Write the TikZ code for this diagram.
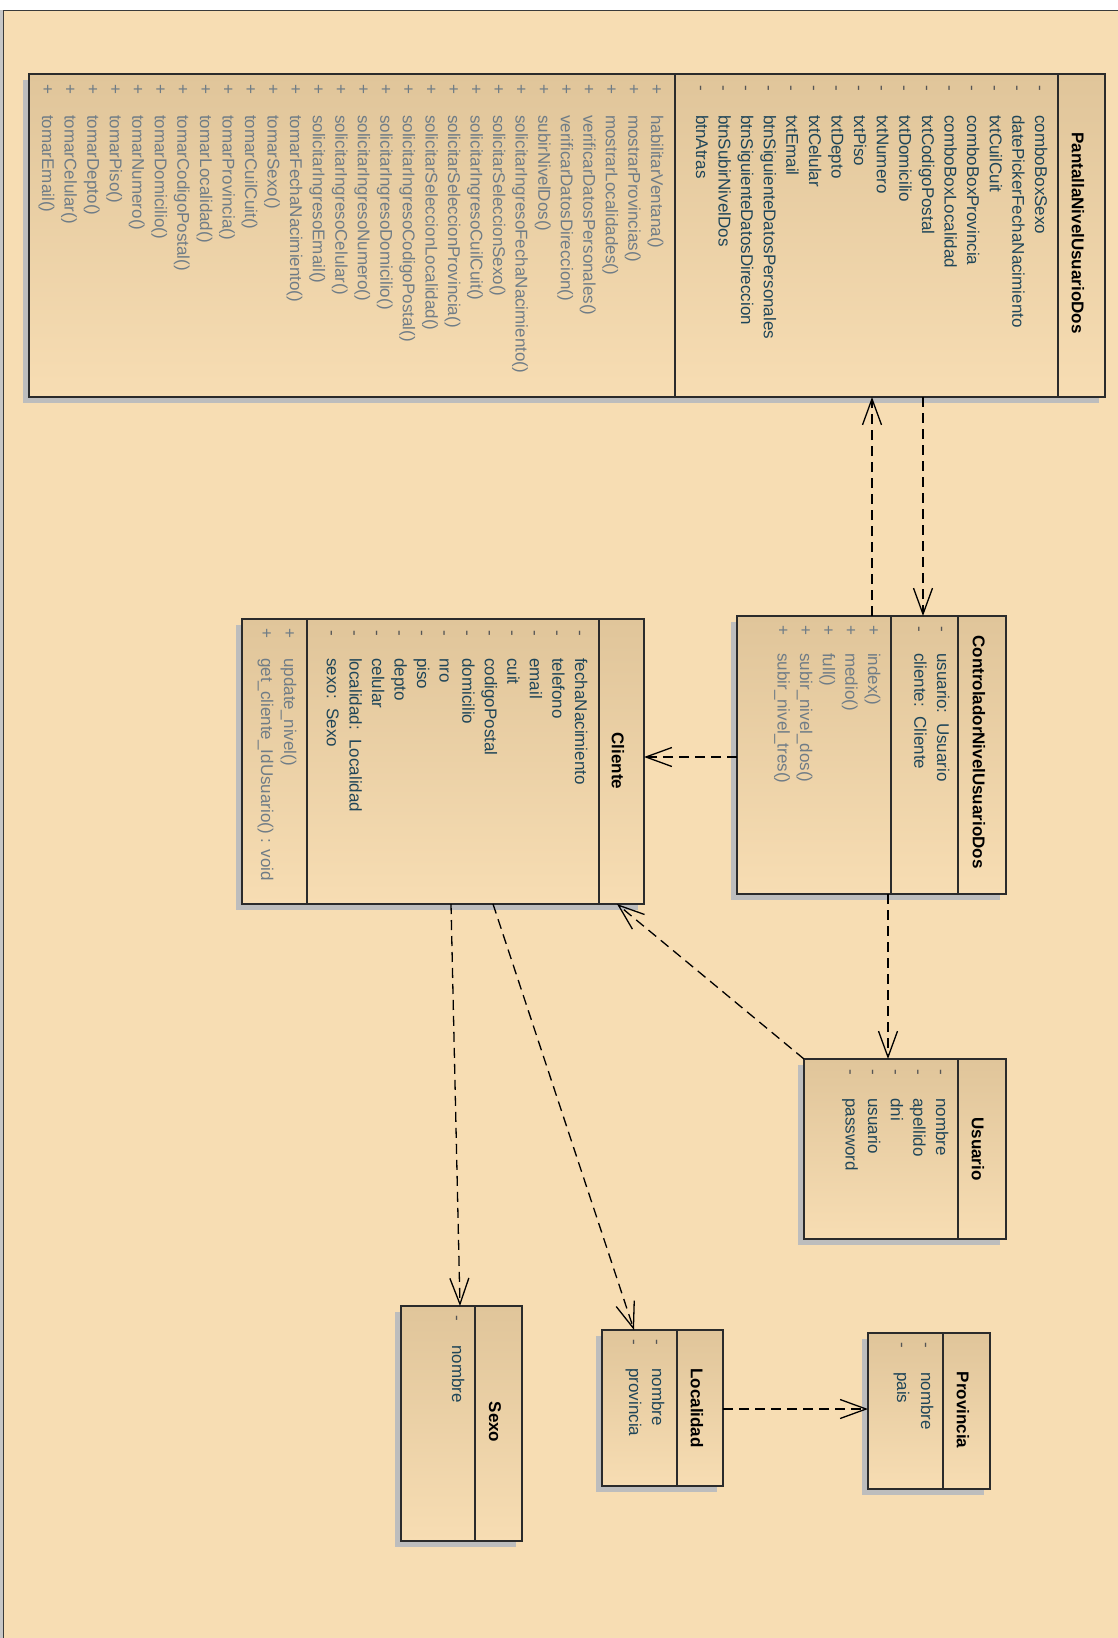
\documentclass[tikz,border=0pt]{standalone}
\usepackage{fontspec}
\setmainfont{Liberation Sans}
\newfontfamily\uf{Liberation Sans}
\usetikzlibrary{arrows.meta,shadows}
\definecolor{bgc}{HTML}{F7DDB3}
\definecolor{gtop}{HTML}{E0C59A}
\definecolor{boxc}{HTML}{2B2B2B}
\definecolor{shadowc}{HTML}{BDBDBD}
\definecolor{attrc}{HTML}{1F4558}
\definecolor{opc}{HTML}{6F7C86}
\definecolor{markc}{HTML}{555555}
\definecolor{framec}{HTML}{3A3A3A}
\tikzset{
  clsbox/.style={draw=boxc, line width=1.4pt, inner sep=0pt, outer sep=0pt, anchor=north west,
    top color=gtop, middle color=bgc, bottom color=bgc,
    general shadow={fill=shadowc, shadow xshift=-6pt, shadow yshift=-6pt}},
  divline/.style={draw=boxc, line width=1.4pt},
  attr/.style={rotate=-90, anchor=base west, inner sep=0pt, text=attrc, font=\uf\fontsize{17}{20}\selectfont},
  oper/.style={rotate=-90, anchor=base west, inner sep=0pt, text=opc, font=\uf\fontsize{17}{20}\selectfont},
  vis/.style={rotate=-90, anchor=base west, inner sep=0pt, text=markc, font=\uf\fontsize{17}{20}\selectfont},
  clsname/.style={rotate=-90, anchor=center, inner sep=0pt, text=black, font=\uf\bfseries\fontsize{17}{20}\selectfont},
  dep/.style={draw=black, line width=1.3pt, dash pattern=on 10pt off 6pt, -{Straight Barb[length=26pt,width=19pt]}}
}
\begin{document}
\begin{tikzpicture}[x=1pt,y=-1pt]
\useasboundingbox (0,0) rectangle (1118,1638);
\fill[white] (0,0) rectangle (1118,1638);
\fill[gray!45] (0,10) rectangle (3,1638);
\fill[bgc] (3,10) rectangle (1118,1638);
\draw[framec, line width=1.5pt] (3.5,1638) -- (3.5,10.5) -- (1118,10.5);

% ---------- PantallaNivelUsuarioDos ----------
\node[clsbox, minimum width=1076pt, minimum height=323pt] (pant) at (29,74) {};
\draw[divline] (pant.north -| 1058,0) -- (pant.south -| 1058,0);
\draw[divline] (pant.north -| 675,0) -- (pant.south -| 675,0);
\node[clsname] (pantT) at (1078,233) {PantallaNivelUsuarioDos};
\foreach \t [count=\i from 0] in {comboBoxSexo, datePickerFechaNacimiento, txtCuilCuit, comboBoxProvincia, comboBoxLocalidad, txtCodigoPostal, txtDomicilio, txtNumero, txtPiso, txtDepto, txtCelular, txtEmail, btnSiguienteDatosPersonales, btnSiguienteDatosDireccion, btnSubirNivelDos, btnAtras}{
  \node[vis] (pam\i) at ({1035-22.6*\i},85) {-};
  \node[attr] (pa\i) at ({1035-22.6*\i},115) {\t};
}
\foreach \t [count=\i from 0] in {habilitarVentana(), mostrarProvincias(), mostrarLocalidades(), verificarDatosPersonales(), verificarDatosDireccion(), subirNivelDos(), solicitarIngresoFechaNacimiento(), solicitarSeleccionSexo(), solicitarIngresoCuilCuit(), solicitarSeleccionProvincia(), solicitarSeleccionLocalidad(), solicitarIngresoCodigoPostal(), solicitarIngresoDomicilio(), solicitarIngresoNumero(), solicitarIngresoCelular(), solicitarIngresoEmail(), tomarFechaNacimiento(), tomarSexo(), tomarCuilCuit(), tomarProvincia(), tomarLocalidad(), tomarCodigoPostal(), tomarDomicilio(), tomarNumero(), tomarPiso(), tomarDepto(), tomarCelular(), tomarEmail()}{
  \node[vis, text=opc] (pom\i) at ({651-22.55*\i},84) {+};
  \node[oper] (po\i) at ({651-22.55*\i},115) {\t};
}

% ---------- ControladorNivelUsuarioDos ----------
\node[clsbox, minimum width=269pt, minimum height=278pt] (ctrl) at (737,616) {};
\draw[divline] (ctrl.north -| 958,0) -- (ctrl.south -| 958,0);
\draw[divline] (ctrl.north -| 891,0) -- (ctrl.south -| 891,0);
\node[clsname] (ctrlT) at (979,752) {ControladorNivelUsuarioDos};
\foreach \t [count=\i from 0] in {usuario:\ \ Usuario, cliente:\ \ Cliente}{
  \node[vis] (cam\i) at ({937-22.6*\i},626) {-};
  \node[attr] (ca\i) at ({937-22.6*\i},653) {\t};
}
\foreach \t [count=\i from 0] in {index(), medio(), full(), subir\_nivel\_dos(), subir\_nivel\_tres()}{
  \node[vis, text=opc] (com\i) at ({868-22.6*\i},625) {+};
  \node[oper] (co\i) at ({868-22.6*\i},653) {\t};
}

% ---------- Cliente ----------
\node[clsbox, minimum width=402pt, minimum height=285pt] (cli) at (242,619) {};
\draw[divline] (cli.north -| 599,0) -- (cli.south -| 599,0);
\draw[divline] (cli.north -| 307,0) -- (cli.south -| 307,0);
\node[clsname] (cliT) at (618,761) {Cliente};
\foreach \t [count=\i from 0] in {fechaNacimiento, telefono, email, cuit, codigoPostal, domicilio, nro, piso, depto, celular, localidad:\ \ Localidad, sexo:\ \ Sexo}{
  \node[vis] (clam\i) at ({575-22.55*\i},630) {-};
  \node[attr] (cla\i) at ({575-22.55*\i},658) {\t};
}
\foreach \t [count=\i from 0] in {update\_nivel(), get\_cliente\_IdUsuario() : void}{
  \node[vis, text=opc] (clom\i) at ({284-23*\i},628) {+};
  \node[oper] (clo\i) at ({284-23*\i},658) {\t};
}

% ---------- Usuario ----------
\node[clsbox, minimum width=202pt, minimum height=180pt] (usu) at (804,1059) {};
\draw[divline] (usu.north -| 958,0) -- (usu.south -| 958,0);
\node[clsname] (usuT) at (978,1149) {Usuario};
\foreach \t [count=\i from 0] in {nombre, apellido, dni, usuario, password}{
  \node[vis] (uam\i) at ({936-22.6*\i},1069) {-};
  \node[attr] (ua\i) at ({936-22.6*\i},1098) {\t};
}

% ---------- Localidad ----------
\node[clsbox, minimum width=121pt, minimum height=156pt] (loc) at (602,1330) {};
\draw[divline] (loc.north -| 677,0) -- (loc.south -| 677,0);
\node[clsname] (locT) at (697,1408) {Localidad};
\foreach \t [count=\i from 0] in {nombre, provincia}{
  \node[vis] (lam\i) at ({652-23*\i},1339) {-};
  \node[attr] (la\i) at ({652-23*\i},1368) {\t};
}

% ---------- Provincia ----------
\node[clsbox, minimum width=122pt, minimum height=156pt] (prov) at (868,1333) {};
\draw[divline] (prov.north -| 943,0) -- (prov.south -| 943,0);
\node[clsname] (provT) at (963,1410) {Provincia};
\foreach \t [count=\i from 0] in {nombre, pais}{
  \node[vis] (pvm\i) at ({921-24*\i},1342) {-};
  \node[attr] (pv\i) at ({921-24*\i},1372) {\t};
}

% ---------- Sexo ----------
\node[clsbox, minimum width=121pt, minimum height=235pt] (sexo) at (401,1306) {};
\draw[divline] (sexo.north -| 475,0) -- (sexo.south -| 475,0);
\node[clsname] (sexoT) at (495,1422) {Sexo};
\node[vis] (sam0) at (452,1315) {-};
\node[attr] (sa0) at (452,1345) {nombre};

% ---------- Dependencies ----------
\draw[dep] (ctrl.north -| 872,0) -- (pant.south -| 872,0);
\draw[dep] (pant.south -| 923,0) -- (ctrl.north -| 923,0);
\draw[dep] (ctrl.west |- 0,757) -- (cli.east |- 0,757);
\draw[dep] (ctrl.south -| 888,0) -- (usu.north -| 888,0);
\draw[dep] (usu.north west) -- (cli.south -| 617,0);
\draw[dep] (cli.south -| 451,0) -- (sexo.north -| 460,0);
\draw[dep] (cli.south -| 493,0) -- (loc.north -| 634,0);
\draw[dep] (loc.east |- 0,1409) -- (prov.west |- 0,1409);
\end{tikzpicture}
\end{document}
